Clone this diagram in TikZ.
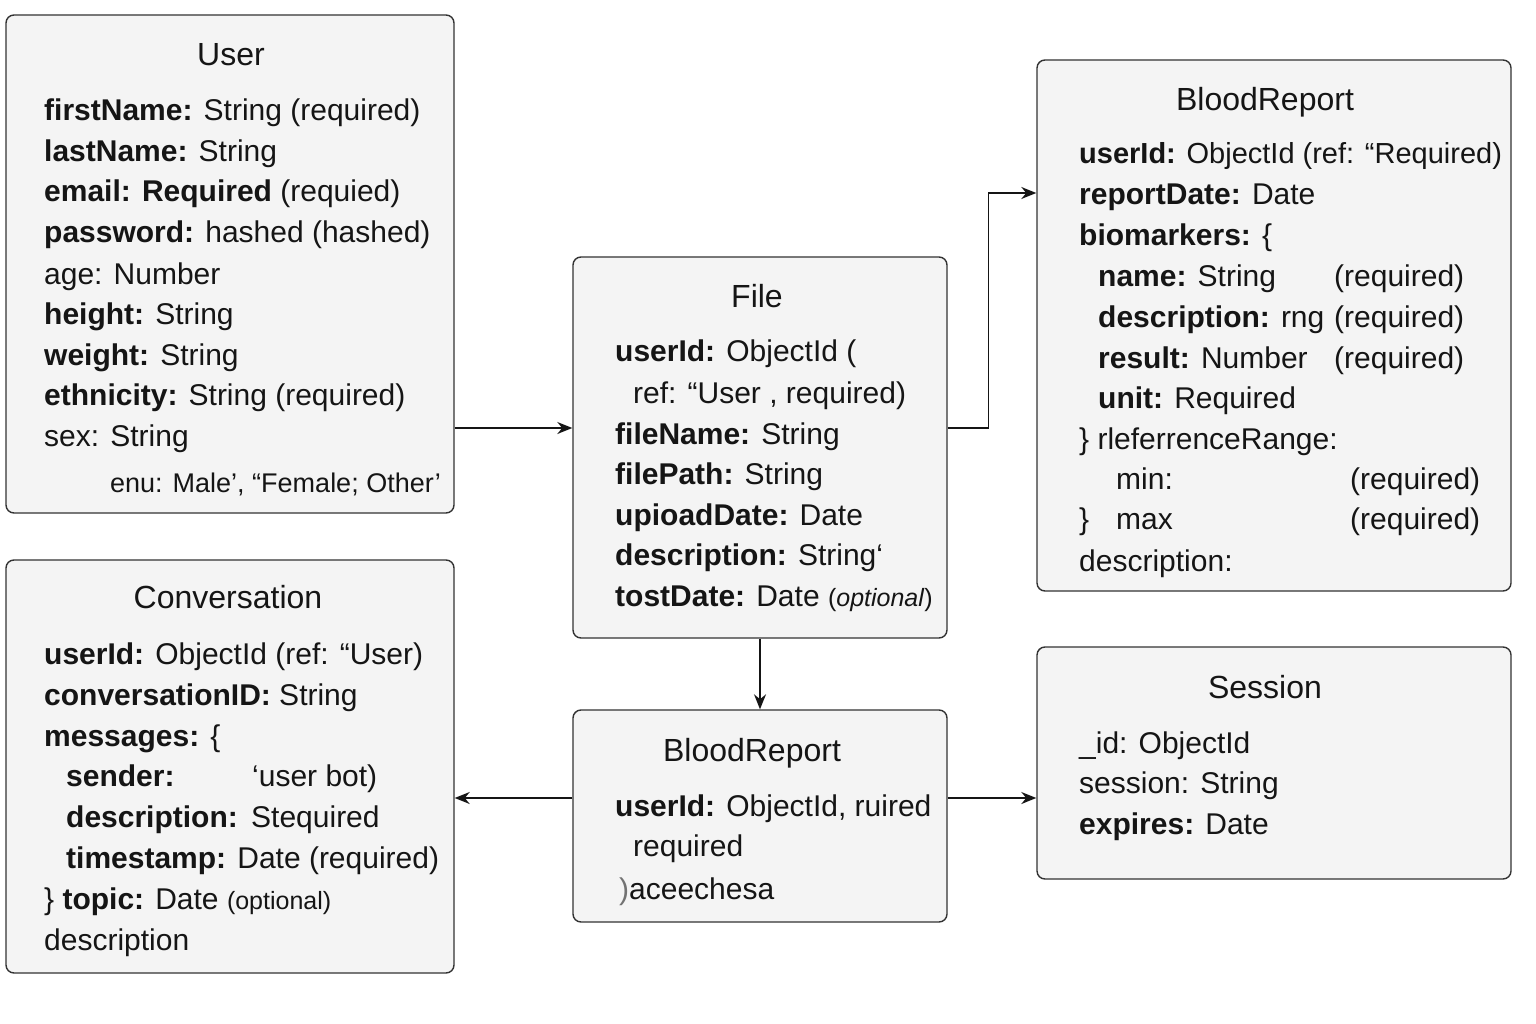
\documentclass[tikz,border=0pt]{standalone}
\usepackage{fontspec}
\setmainfont{Liberation Sans}
\usetikzlibrary{arrows.meta,calc}
\definecolor{boxfill}{HTML}{F4F4F4}
\definecolor{boxline}{HTML}{333333}
\definecolor{ink}{HTML}{151515}
\tikzset{
  box/.style={draw=boxline, fill=boxfill, line width=1.4pt, rounded corners=8pt, inner sep=0pt},
  fld/.style={anchor=base west, inner sep=0pt, text=ink, font=\fontsize{30}{35}\selectfont},
  ttl/.style={anchor=base, inner sep=0pt, text=ink, font=\fontsize{32}{38}\selectfont},
  arr/.style={draw=ink, line width=1.4pt, -{Stealth[length=15pt,width=12pt]}}
}
\newcommand{\kk}[1]{\textbf{#1}}
\begin{document}
\begin{tikzpicture}[x=1pt,y=-1pt]
\useasboundingbox[fill=white] (0,0) rectangle (1536,1024);
% boxes
\node[box, minimum width=448pt, minimum height=498pt] (user) at (230,264) {};
\node[box, minimum width=448pt, minimum height=413pt] (conv) at (230,766.5) {};
\node[box, minimum width=374pt, minimum height=381pt] (file) at (760,447.5) {};
\node[box, minimum width=474pt, minimum height=531pt] (br1) at (1274,325.5) {};
\node[box, minimum width=374pt, minimum height=212pt] (br2) at (760,816) {};
\node[box, minimum width=474pt, minimum height=232pt] (sess) at (1274,763) {};
% User
\node[ttl] (ut) at (231,66) {User};
\node[fld] (u1) at (44,121) {\kk{firstName:} String (required)};
\node[fld] (u2) at (44,162) {\kk{lastName:} String};
\node[fld] (u3) at (44,202) {\kk{email: Required} (requied)};
\node[fld] (u4) at (44,243) {\kk{password:} hashed (hashed)};
\node[fld] (u5) at (44,284) {age: Number};
\node[fld] (u6) at (44,324) {\kk{height:} String};
\node[fld] (u7) at (44,365) {\kk{weight:} String};
\node[fld] (u8) at (44,405) {\kk{ethnicity:} String (required)};
\node[fld] (u9) at (44,446) {sex: String};
\node[fld, font=\fontsize{27}{32}\selectfont] (u10) at (110,492) {enu: Male’, “Female; Other’};
% File
\node[ttl] (ft) at (757,308) {File};
\node[fld] (f1) at (615,361) {\kk{userId:} ObjectId (};
\node[fld] (f2) at (633,403) {ref: “User , required)};
\node[fld] (f3) at (615,444) {\kk{fileName:} String};
\node[fld] (f4) at (615,484) {\kk{filePath:} String};
\node[fld] (f5) at (615,525) {\kk{upioadDate:} Date};
\node[fld] (f6) at (615,565) {\kk{description:} String‘};
\node[fld] (f7) at (615,606) {\kk{tostDate:} Date {\fontsize{25}{30}\selectfont(\textit{optional})}};
% BloodReport top
\node[ttl] (bt) at (1265,111) {BloodReport};
\node[fld, font=\fontsize{29}{34}\selectfont] (b1) at (1079,164) {\kk{userId:} ObjectId (ref: “Required)};
\node[fld] (b2) at (1079,205) {\kk{reportDate:} Date};
\node[fld] (b3) at (1079,246) {\kk{biomarkers:} \{};
\node[fld] (b4) at (1098,287) {\kk{name:} String};
\node[fld] (b4r) at (1334,287) {(required)};
\node[fld] (b5) at (1098,327) {\kk{description:} rng};
\node[fld] (b5r) at (1334,327) {(required)};
\node[fld] (b6) at (1098,368) {\kk{result:} Number};
\node[fld] (b6r) at (1334,368) {(required)};
\node[fld] (b7) at (1098,408) {\kk{unit:} Required};
\node[fld] (b8) at (1079,449) {\} rleferrenceRange:};
\node[fld] (b9) at (1116,489) {min:};
\node[fld] (b9r) at (1350,489) {(required)};
\node[fld] (b10) at (1079,529) {\}};
\node[fld] (b10m) at (1116,529) {max};
\node[fld] (b10r) at (1350,529) {(required)};
\node[fld] (b11) at (1079,571) {description:};
% Conversation
\node[ttl] (ct) at (228,608) {Conversation};
\node[fld] (c1) at (44,664) {\kk{userId:} ObjectId (ref: “User)};
\node[fld] (c2) at (44,705) {\kk{conversationID:} String};
\node[fld] (c3) at (44,746) {\kk{messages:} \{};
\node[fld] (c4) at (66,786) {\kk{sender:}};
\node[fld] (c4r) at (252,786) {‘user bot)};
\node[fld] (c5) at (66,827) {\kk{description:}};
\node[fld] (c5r) at (251,827) {Stequired};
\node[fld] (c6) at (66,868) {\kk{timestamp:} Date (required)};
\node[fld] (c7) at (44,909) {\} \kk{topic:} Date {\fontsize{25}{30}\selectfont(optional)}};
\node[fld] (c8) at (44,950) {description};
% BloodReport bottom
\node[ttl] (rt) at (752,761) {BloodReport};
\node[fld] (r1) at (615,816) {\kk{userId:} ObjectId, ruired};
\node[fld] (r2) at (633,856) {required};
\node[fld] (r3) at (619,899) {{\color{ink!60})}aceechesa};
% Session
\node[ttl] (st) at (1265,698) {Session};
\node[fld] (s1) at (1079,753) {\_id: ObjectId};
\node[fld] (s2) at (1079,793) {session: String};
\node[fld] (s3) at (1079,834) {\kk{expires:} Date};
% connectors
\coordinate (fa) at ([yshift=19.5pt]file.west);
\coordinate (fb) at ([yshift=19.5pt]file.east);
\coordinate (ba) at ([yshift=132.5pt]br1.west);
\coordinate (ca) at ([yshift=18pt]br2.west);
\coordinate (cb) at ([yshift=18pt]br2.east);
\draw[arr] (user.east |- fa) -- (fa);
\draw[arr] (fb) -- ++(41,0) |- (ba);
\draw[arr] (file.south) -- (br2.north);
\draw[arr] (ca) -- (conv.east |- ca);
\draw[arr] (cb) -- (sess.west |- cb);
\end{tikzpicture}
\end{document}
